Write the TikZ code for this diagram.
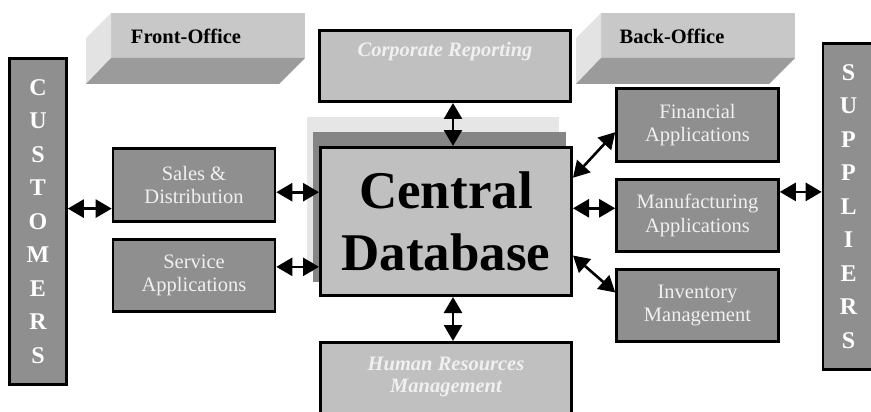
\documentclass[tikz,border=0pt]{standalone}
\usepackage{fontspec}
\setmainfont{Liberation Serif}
\usetikzlibrary{arrows.meta}
\definecolor{boxdark}{HTML}{8F8F8F}
\definecolor{boxlight}{HTML}{C0C0C0}
\definecolor{boxtext}{HTML}{F0F0F0}
\definecolor{facetop}{HTML}{C8C8C8}
\definecolor{faceside}{HTML}{E3E3E3}
\definecolor{facebottom}{HTML}{9B9B9B}
\definecolor{shadowlight}{HTML}{E6E6E6}
\definecolor{shadowdark}{HTML}{858585}
\tikzset{
  appbox/.style={draw=black, line width=2.6pt, fill=boxdark, text=boxtext,
    minimum width=162pt, minimum height=72.5pt, inner sep=0pt, align=center,
    font=\fontsize{20.5}{23.5}\selectfont},
  corebox/.style={draw=black, line width=2.6pt, fill=boxlight,
    minimum width=251.4pt, inner sep=0pt, align=center},
  sidebar/.style={draw=black, line width=2.6pt, fill=boxdark, text=white,
    inner sep=0pt, align=center, font=\bfseries\fontsize{24}{33.5}\selectfont},
  boxlabel/.style={text=boxtext, align=center, inner sep=0pt,
    font=\bfseries\itshape\fontsize{20.5}{22}\selectfont},
  officelabel/.style={inner sep=0pt, font=\bfseries\fontsize{20.5}{24}\selectfont},
  dbl/.style={{Triangle[length=16pt,width=18pt]}-{Triangle[length=16pt,width=18pt]},
    line width=2.6pt},
}
\begin{document}
\begin{tikzpicture}[x=1pt,y=-1pt]
    \useasboundingbox (0,0) rectangle (871,412);
    % 前台立体标签
    \fill[facetop] (111,13) rectangle (305,58);
    \fill[faceside] (111,13) -- (86,38) -- (86,84) -- (111,58) -- cycle;
    \fill[facebottom] (111,58) -- (305,58) -- (279,84) -- (86,84) -- cycle;
    \node[officelabel] (frontlabel) at (186,36) {Front-Office};
    % 后台立体标签
    \fill[facetop] (601,13) rectangle (795,58);
    \fill[faceside] (601,13) -- (576,38) -- (576,84) -- (601,58) -- cycle;
    \fill[facebottom] (601,58) -- (795,58) -- (769,84) -- (576,84) -- cycle;
    \node[officelabel] (backlabel) at (672,36) {Back-Office};
    % 客户与供应商
    \node[sidebar, minimum width=57pt, minimum height=326pt] (customers) at (38,221.5)
        {C\\U\\S\\T\\O\\M\\E\\R\\S};
    \node[sidebar, minimum width=51pt, minimum height=326pt] (suppliers) at (848.5,206.5)
        {S\\U\\P\\P\\L\\I\\E\\R\\S};
    % 中央数据库及其阴影
    \fill[shadowlight] (307,117) rectangle (559,272);
    \fill[shadowdark] (313,132) rectangle (566,282);
    \node[corebox, minimum height=148.4pt,
        font=\bfseries\fontsize{53}{62}\selectfont] (central) at (446,221.5)
        {Central\\Database};
    \node[corebox, minimum height=71.4pt] (corporate) at (445,66) {};
    \node[boxlabel] (corptext) at (445,52) {Corporate Reporting};
    \node[corebox, minimum height=76.4pt] (hr) at (446,380.5) {};
    \node[boxlabel] (hrtext) at (446,377) {Human Resources\\Management};
    % 应用模块
    \node[appbox] (sales) at (194,185) {Sales \&\\Distribution};
    \node[appbox] (service) at (194,275.5) {Service\\Applications};
    \node[appbox] (financial) at (697.5,125) {Financial\\Applications};
    \node[appbox] (manufacturing) at (697.5,215.5) {Manufacturing\\Applications};
    \node[appbox] (inventory) at (697.5,305.5) {Inventory\\Management};
    % 双向箭头
    \draw[dbl] (sales.196 -| customers.east) -- (sales.196);
    \draw[dbl] (sales.-5) -- (sales.-5 -| central.west);
    \draw[dbl] (service.6) -- (service.6 -| central.west);
    \draw[dbl] ([xshift=8pt]corporate.south) -- ([xshift=7pt]central.north);
    \draw[dbl] ([xshift=7pt]central.south) -- ([xshift=7pt]hr.north);
    \draw[dbl] (central.19) -- (financial.185);
    \draw[dbl] (manufacturing.175 -| central.east) -- (manufacturing.175);
    \draw[dbl] (central.-15) -- (inventory.171);
    \draw[dbl] (manufacturing.16) -- (manufacturing.16 -| suppliers.west);
\end{tikzpicture}
\end{document}
